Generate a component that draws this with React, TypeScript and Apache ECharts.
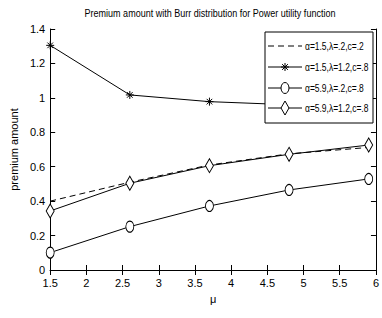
import React, { useEffect, useRef } from "react";
import * as echarts from "echarts";

const muValues = [1.5, 2.6, 3.7, 4.8, 5.9];
const seriesNames = [
  "α=1.5,λ=.2,c=.2",
  "α=1.5,λ=1.2,c=.8",
  "α=5.9,λ=.2,c=.8",
  "α=5.9,λ=1.2,c=.8",
];
const dashedValues = [0.4, 0.51, 0.61, 0.675, 0.712];
const starValues = [1.305, 1.017, 0.978, 0.96, 0.985];
const circleValues = [0.101, 0.252, 0.372, 0.465, 0.529];
const diamondValues = [0.343, 0.504, 0.606, 0.672, 0.726];
const titleText = "Premium amount with Burr distribution for Power utility function";

const FONT = "'Liberation Sans', Arial, sans-serif";
const STAR = "path://M0,5L10,5M5,0L5,10M1.5,1.5L8.5,8.5M8.5,1.5L1.5,8.5";
const DIAMOND = "path://M5,0L10,10L5,20L0,10Z";

function pairs(vals: number[]) {
  return muValues.map((m, i) => [m, vals[i]]);
}

function legendGraphics() {
  const bx = 265, by = 32, bw = 108, bh = 91;
  const rows = [46, 67, 88, 108];
  const x0 = 268, x1 = 302, mx = 285, tx = 305;
  const Z = 100;
  const stroke = { stroke: "#000", lineWidth: 1 };
  const els: any[] = [
    { type: "rect", z: Z, shape: { x: bx, y: by, width: bw, height: bh }, style: { fill: "#fff", ...stroke } },
  ];
  rows.forEach((y, i) => {
    els.push({
      type: "line",
      z: Z + 1,
      shape: { x1: x0, y1: y, x2: x1, y2: y },
      style: { ...stroke, lineDash: i === 0 ? [6, 4] : null },
    });
    if (i === 1) {
      const r = 4;
      const d = r * 0.72;
      els.push({ type: "line", z: Z + 2, shape: { x1: mx - r, y1: y, x2: mx + r, y2: y }, style: stroke });
      els.push({ type: "line", z: Z + 2, shape: { x1: mx, y1: y - r, x2: mx, y2: y + r }, style: stroke });
      els.push({ type: "line", z: Z + 2, shape: { x1: mx - d, y1: y - d, x2: mx + d, y2: y + d }, style: stroke });
      els.push({ type: "line", z: Z + 2, shape: { x1: mx + d, y1: y - d, x2: mx - d, y2: y + d }, style: stroke });
    } else if (i === 2) {
      els.push({ type: "ellipse", z: Z + 2, shape: { cx: mx, cy: y, rx: 4, ry: 5.5 }, style: { fill: "#fff", ...stroke } });
    } else if (i === 3) {
      els.push({
        type: "polygon",
        z: Z + 2,
        shape: { points: [[mx, y - 7], [mx + 4, y], [mx, y + 7], [mx - 4, y]] },
        style: { fill: "#fff", ...stroke },
      });
    }
    els.push({
      type: "text",
      z: Z + 2,
      x: tx,
      y: y,
      scaleX: 0.77,
      style: { text: seriesNames[i], x: 0, y: 0, fontFamily: FONT, fontSize: 11, fill: "#000", verticalAlign: "middle", align: "left" },
    });
  });
  return els;
}

export default function App() {
  const ref = useRef<HTMLDivElement>(null);
  useEffect(() => {
    if (!ref.current) return;
    const chart = echarts.init(ref.current, undefined, { renderer: "svg" });
    const axisLine = { show: true, lineStyle: { color: "#000", width: 1 } };
    const tick = { show: true, inside: true, length: 5, lineStyle: { color: "#000" } };
    const lbl = { color: "#000", fontFamily: FONT, fontSize: 11 };
    const base = {
      type: "line",
      color: "#000",
      lineStyle: { color: "#000", width: 1 },
      itemStyle: { color: "#fff", borderColor: "#000", borderWidth: 1 },
      showSymbol: true,
      z: 2,
    };
    chart.setOption({
      animation: false,
      backgroundColor: "#fff",
      graphic: [
        {
          type: "text",
          x: 210,
          y: 13,
          scaleX: 0.82,
          style: { text: titleText, x: 0, y: 0, align: "center", verticalAlign: "middle", fontFamily: FONT, fontSize: 11, fill: "#000" },
        },
        ...legendGraphics(),
      ],
      grid: { left: 38, right: 4, top: 29, bottom: 48, containLabel: false },
      xAxis: [
        {
          type: "value",
          min: 1.5,
          max: 6,
          interval: 0.5,
          axisLine,
          axisTick: tick,
          axisLabel: { ...lbl, margin: 7 },
          splitLine: { show: false },
          name: "μ",
          nameLocation: "middle",
          nameGap: 23,
          nameTextStyle: { fontFamily: FONT, fontSize: 11, color: "#000" },
        },
        {
          type: "value",
          position: "top",
          min: 1.5,
          max: 6,
          interval: 0.5,
          axisLine,
          axisTick: tick,
          axisLabel: { show: false },
          splitLine: { show: false },
        },
      ],
      yAxis: [
        {
          type: "value",
          min: 0,
          max: 1.4,
          interval: 0.2,
          axisLine,
          axisTick: tick,
          axisLabel: { ...lbl, margin: 5 },
          splitLine: { show: false },
          name: "premium amount",
          nameLocation: "middle",
          nameGap: 22,
          nameTextStyle: { fontFamily: FONT, fontSize: 11, color: "#000" },
        },
        {
          type: "value",
          position: "right",
          min: 0,
          max: 1.4,
          interval: 0.2,
          axisLine,
          axisTick: tick,
          axisLabel: { show: false },
          splitLine: { show: false },
        },
      ],
      series: [
        {
          ...base,
          name: seriesNames[0],
          data: pairs(dashedValues),
          showSymbol: false,
          symbol: "none",
          lineStyle: { color: "#000", width: 1, type: [6, 4] },
        },
        {
          ...base,
          name: seriesNames[1],
          data: pairs(starValues),
          symbol: STAR,
          symbolSize: 8,
          itemStyle: { color: "none", borderColor: "#000", borderWidth: 1 },
        },
        {
          ...base,
          name: seriesNames[2],
          data: pairs(circleValues),
          symbol: "circle",
          symbolSize: [8, 11],
        },
        {
          ...base,
          name: seriesNames[3],
          data: pairs(diamondValues),
          symbol: DIAMOND,
          symbolSize: [8, 14],
        },
      ],
    });
    return () => chart.dispose();
  }, []);
  return <div ref={ref} style={{ width: 382, height: 318, position: "absolute", left: 0, top: 0 }} />;
}
